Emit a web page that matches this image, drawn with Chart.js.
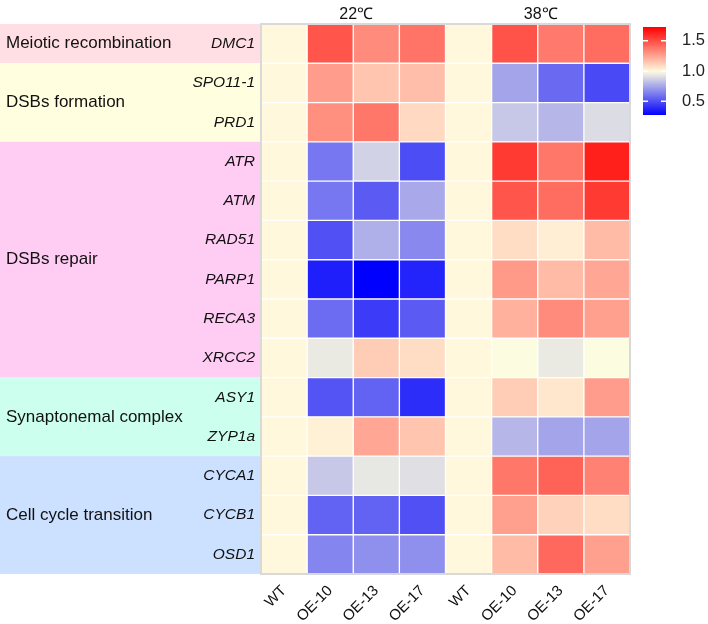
<!DOCTYPE html>
<html>
<head>
<meta charset="utf-8">
<script src="https://cdn.jsdelivr.net/npm/chart.js@4.4.0/dist/chart.umd.min.js"></script>
<style>
  html, body { margin: 0; padding: 0; background: #fff; }
  #wrap { width: 708px; height: 624px; }
</style>
</head>
<body>
<div id="wrap"><canvas id="heat"></canvas></div>
<script>
const genes = ['DMC1', 'SPO11-1', 'PRD1', 'ATR', 'ATM', 'RAD51', 'PARP1', 'RECA3', 'XRCC2', 'ASY1', 'ZYP1a', 'CYCA1', 'CYCB1', 'OSD1'];
const samples = ['WT', 'OE-10', 'OE-13', 'OE-17', 'WT', 'OE-10', 'OE-13', 'OE-17'];
const temps = ['22℃', '38℃'];
const groupNames = ['Meiotic recombination', 'DSBs formation', 'DSBs repair', 'Synaptonemal complex', 'Cell cycle transition'];
const groupSizes = [1, 2, 6, 2, 3];

// relative expression, one array per heatmap column (gene order as above)
const wt22    = [1, 1, 1, 1, 1, 1, 1, 1, 1, 1, 1, 1, 1, 1];
const oe10_22 = [1.48, 1.27, 1.31, 0.61, 0.61, 0.50, 0.36, 0.58, 0.94, 0.51, 1.02, 0.84, 0.55, 0.65];
const oe13_22 = [1.32, 1.15, 1.38, 0.87, 0.53, 0.77, 0.27, 0.44, 1.13, 0.55, 1.24, 0.93, 0.55, 0.68];
const oe17_22 = [1.39, 1.17, 1.09, 0.49, 0.75, 0.66, 0.37, 0.53, 1.08, 0.40, 1.15, 0.91, 0.50, 0.68];
const wt38    = [1, 1, 1, 1, 1, 1, 1, 1, 1, 1, 1, 1, 1, 1];
const oe10_38 = [1.49, 0.74, 0.84, 1.56, 1.48, 1.08, 1.28, 1.21, 0.99, 1.13, 0.79, 1.38, 1.26, 1.18];
const oe13_38 = [1.37, 0.57, 0.79, 1.38, 1.41, 1.03, 1.18, 1.32, 0.94, 1.05, 0.74, 1.44, 1.11, 1.42];
const oe17_38 = [1.41, 0.48, 0.90, 1.64, 1.56, 1.18, 1.24, 1.26, 0.99, 1.27, 0.74, 1.35, 1.08, 1.26];

const legendTicks = [1.5, 1.0, 0.5];
const vMin = 0.27, vMid = 1.0, vMax = 1.73;

const columns = [wt22, oe10_22, oe13_22, oe17_22, wt38, oe10_38, oe13_38, oe17_38];
const bandColors = ['#ffdfe3', '#ffffe0', '#ffccf4', '#ccffee', '#cce0ff'];
const fontFamily = '"Liberation Sans", Arial, sans-serif';

function cellColor(v) {
    let from, to, t;
    if (v >= vMid) {
        from = [255, 248, 220]; to = [255, 0, 0];
        t = (v - vMid) / (vMax - vMid);
    } else {
        from = [255, 255, 224]; to = [0, 0, 255];
        t = (vMid - v) / (vMid - vMin);
    }
    t = Math.max(0, Math.min(1, t));
    const c = from.map((f, i) => Math.round(f + (to[i] - f) * t));
    return `rgb(${c[0]}, ${c[1]}, ${c[2]})`;
}

const decorPlugin = {
    id: 'decor',
    beforeDraw(chart) {
        const ctx = chart.ctx;
        const area = chart.chartArea;
        const yScale = chart.scales.y;
        const rowH = (area.bottom - area.top) / genes.length;
        let start = 0;
        ctx.save();
        groupSizes.forEach((n, g) => {
            const top = yScale.getPixelForValue(start) - rowH / 2;
            ctx.fillStyle = bandColors[g];
            ctx.fillRect(0, top, area.left, rowH * n);
            start += n;
        });
        ctx.restore();
    },
    afterDatasetsDraw(chart) {
        const ctx = chart.ctx;
        const area = chart.chartArea;
        const xScale = chart.scales.x;
        const yScale = chart.scales.y;
        const rowH = (area.bottom - area.top) / genes.length;
        ctx.save();

        // grid frame
        ctx.strokeStyle = '#d9d9d9';
        ctx.lineWidth = 2;
        ctx.strokeRect(area.left, area.top, area.right - area.left, area.bottom - area.top);

        // group labels
        ctx.fillStyle = '#111';
        ctx.font = `17px ${fontFamily}`;
        ctx.textAlign = 'left';
        ctx.textBaseline = 'middle';
        let start = 0;
        groupSizes.forEach((n, g) => {
            const mid = yScale.getPixelForValue(start) - rowH / 2 + rowH * n / 2;
            ctx.fillText(groupNames[g], 6, mid);
            start += n;
        });

        // temperature headers
        ctx.font = `16px ${fontFamily}`;
        ctx.textAlign = 'center';
        temps.forEach((t, i) => {
            ctx.fillText(t, xScale.getPixelForValue(i * 4 + 2) + 3, 15);
        });

        // colour bar
        const barL = 643, barR = 666, barT = 27, barB = 115;
        const grad = ctx.createLinearGradient(0, barT, 0, barB);
        for (let k = 0; k <= 40; k++) {
            const v = vMax - (vMax - vMin) * k / 40;
            grad.addColorStop(k / 40, cellColor(v));
        }
        ctx.fillStyle = grad;
        ctx.fillRect(barL, barT, barR - barL, barB - barT);
        ctx.strokeStyle = '#ffffff';
        ctx.lineWidth = 1.5;
        ctx.font = `16.5px ${fontFamily}`;
        ctx.textAlign = 'left';
        ctx.fillStyle = '#222';
        legendTicks.forEach(v => {
            const y = barT + (vMax - v) / (vMax - vMin) * (barB - barT);
            ctx.beginPath();
            ctx.moveTo(barL, y); ctx.lineTo(barL + 5, y);
            ctx.moveTo(barR - 5, y); ctx.lineTo(barR, y);
            ctx.stroke();
            ctx.fillText(v.toFixed(1), 682, y);
        });
        ctx.restore();
    }
};

new Chart(document.getElementById('heat'), {
    type: 'bar',
    data: {
        labels: genes,
        datasets: columns.map((vals, c) => ({
            label: samples[c],
            data: vals.map(() => [c, c + 1]),
            backgroundColor: vals.map(cellColor),
            borderColor: '#ffffff',
            borderWidth: 1,
            borderSkipped: false,
            barPercentage: 1,
            categoryPercentage: 1,
            grouped: false
        }))
    },
    options: {
        indexAxis: 'y',
        responsive: true,
        maintainAspectRatio: false,
        animation: false,
        layout: { padding: { top: 24, right: 78, bottom: 0, left: 0 } },
        plugins: {
            legend: { display: false },
            tooltip: { enabled: false }
        },
        scales: {
            x: {
                type: 'linear',
                min: 0,
                max: 8,
                position: 'bottom',
                afterBuildTicks: s => { s.ticks = samples.map((_, i) => ({ value: i + 0.5 })); },
                afterFit: s => { s.height = 50; },
                grid: { display: false, drawTicks: false },
                border: { display: false },
                ticks: {
                    autoSkip: false,
                    minRotation: 45,
                    maxRotation: 45,
                    padding: 8,
                    color: '#111',
                    font: { family: fontFamily, size: 15 },
                    callback: v => samples[Math.floor(v)]
                }
            },
            y: {
                type: 'category',
                afterFit: s => { s.width = 261; },
                grid: { display: false, drawTicks: false },
                border: { display: false },
                ticks: {
                    padding: 6,
                    color: '#111',
                    font: { family: fontFamily, size: 15.5, style: 'italic' }
                }
            }
        }
    },
    plugins: [decorPlugin]
});
</script>
</body>
</html>
